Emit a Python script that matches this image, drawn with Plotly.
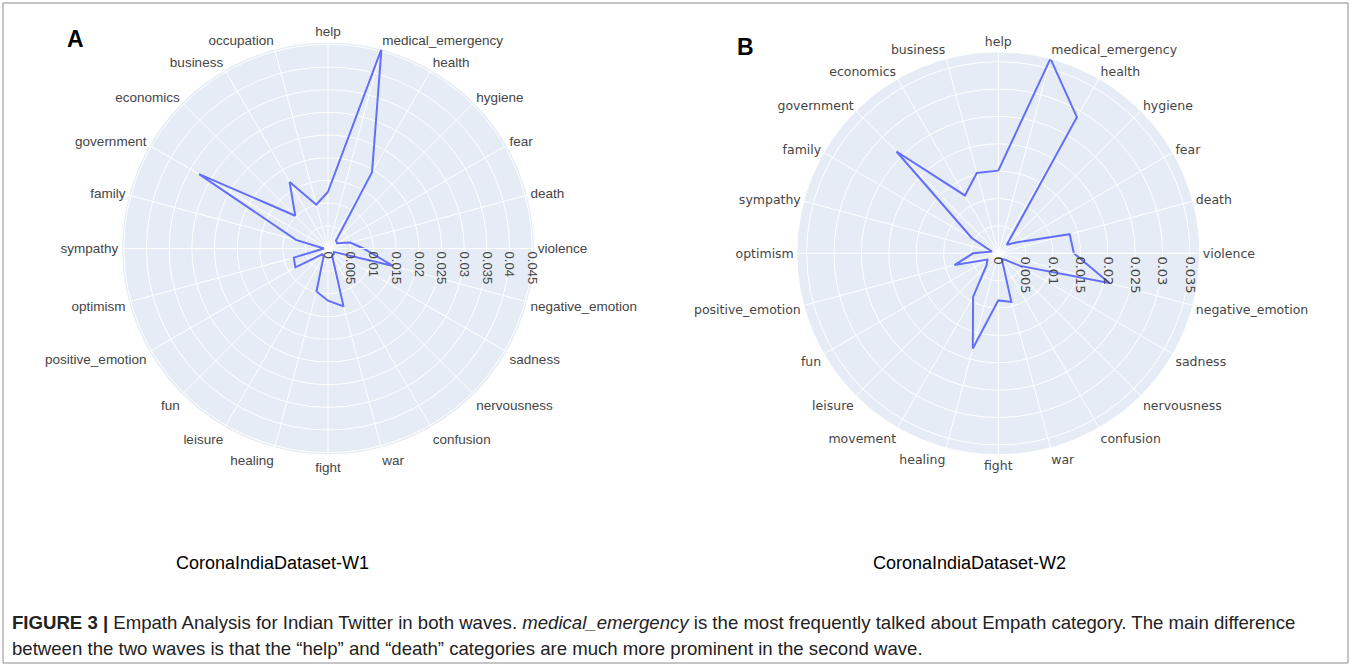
import plotly.graph_objects as go

# ---------------- data ----------------
cats_w1 = ["help", "medical_emergency", "health", "hygiene", "fear", "death",
           "violence", "negative_emotion", "sadness", "nervousness", "confusion",
           "war", "fight", "healing", "leisure", "fun", "positive_emotion",
           "optimism", "sympathy", "family", "government", "economics",
           "business", "occupation"]
vals_w1 = [0.0125, 0.0455, 0.0194, 0.0025, 0.0023, 0.0051,
           0.0078, 0.0149, 0.0015, 0.0018, 0.0018,
           0.0132, 0.0115, 0.0098, 0.0019, 0.0018, 0.0083,
           0.0078, 0.0009, 0.0073, 0.0328, 0.0102,
           0.0169, 0.0100]

cats_w2 = ["help", "medical_emergency", "health", "hygiene", "fear", "death",
           "violence", "negative_emotion", "sadness", "nervousness", "confusion",
           "war", "fight", "healing", "movement", "leisure", "fun",
           "positive_emotion", "optimism", "sympathy", "family", "government",
           "economics", "business"]
vals_w2 = [0.0151, 0.0368, 0.0287, 0.0022, 0.0040, 0.0135,
           0.0138, 0.0210, 0.0046, 0.0016, 0.0013,
           0.0092, 0.0086, 0.0180, 0.0092, 0.0030, 0.0023,
           0.0083, 0.0046, 0.0012, 0.0056, 0.0263,
           0.0122, 0.0152]

panel_titles = ["CoronaIndiaDataset-W1", "CoronaIndiaDataset-W2"]
panel_letters = ["A", "B"]
radial_ticks_w1 = [round(0.005 * i, 3) for i in range(10)]
radial_ticks_w2 = [round(0.005 * i, 3) for i in range(8)]

W, H = 1351, 666
LINE = "#636efa"
LABEL = "#454545"

fig = go.Figure()
fig.add_trace(go.Scatterpolar(r=vals_w1 + vals_w1[:1], theta=cats_w1 + cats_w1[:1],
                              mode="lines", line=dict(color=LINE, width=2),
                              subplot="polar", showlegend=False))
fig.add_trace(go.Scatterpolar(r=vals_w2 + vals_w2[:1], theta=cats_w2 + cats_w2[:1],
                              mode="lines", line=dict(color=LINE, width=2),
                              subplot="polar2", showlegend=False))


def px_dom(cx, cy, rad):
    return dict(x=[(cx - rad) / W, (cx + rad) / W],
                y=[(H - cy - rad) / H, (H - cy + rad) / H])


def polar_cfg(dom, cats, vmax, ticks, family, afs, rfs):
    return dict(
        domain=dom,
        bgcolor="#E5ECF6",
        angularaxis=dict(type="category", categoryorder="array", categoryarray=cats,
                         direction="clockwise", rotation=90,
                         gridcolor="white", linecolor="white", showline=True,
                         ticks="", tickfont=dict(family=family, size=afs, color=LABEL)),
        radialaxis=dict(range=[0, vmax], angle=0, tickangle=90,
                        tickvals=ticks, ticktext=[str(t) if t != 0 else "0" for t in ticks],
                        gridcolor="white", linecolor="white", showline=True, ticks="",
                        tickfont=dict(family=family, size=rfs, color=LABEL)),
    )


fig.update_layout(
    width=W, height=H,
    margin=dict(l=0, r=0, t=0, b=0),
    paper_bgcolor="white", plot_bgcolor="white",
    polar=polar_cfg(px_dom(328, 248.5, 206.5), cats_w1, max(vals_w1), radial_ticks_w1,
                    "Liberation Sans, Arial, sans-serif", 13.5, 13),
    polar2=polar_cfg(px_dom(998.3, 253.3, 201.5), cats_w2, max(vals_w2), radial_ticks_w2,
                     "DejaVu Sans, sans-serif", 12.5, 13),
)

# border frame
fig.add_shape(type="rect", xref="paper", yref="paper",
              x0=3 / W, x1=1348 / W, y0=1 - 663 / H, y1=1 - 3 / H,
              line=dict(color="#8c8c8c", width=1), fillcolor="rgba(0,0,0,0)")

SANS = "Liberation Sans, Arial, sans-serif"
# panel letters
for letter, xp, yp in zip(panel_letters, [75.5, 745.5], [38.5, 47.5]):
    fig.add_annotation(x=xp / W, y=1 - yp / H, xref="paper", yref="paper",
                       xanchor="center", yanchor="middle",
                       text="<b>%s</b>" % letter, showarrow=False,
                       font=dict(family=SANS, size=23, color="black"))
# panel titles
for t, xp in zip(panel_titles, [272, 969]):
    fig.add_annotation(x=xp / W, y=1 - 563 / H, xref="paper", yref="paper",
                       xanchor="center", yanchor="middle",
                       text=t, showarrow=False,
                       font=dict(family=SANS, size=18, color="black"))

caption1 = ("<b>FIGURE 3 |</b> Empath Analysis for Indian Twitter in both waves. "
            "<i>medical_emergency</i> is the most frequently talked about Empath category. "
            "The main difference")
caption2 = ("between the two waves is that the \u201chelp\u201d and \u201cdeath\u201d "
            "categories are much more prominent in the second wave.")
for c, yp in zip([caption1, caption2], [622, 648]):
    fig.add_annotation(x=10 / W, y=1 - yp / H, xref="paper", yref="paper",
                       xanchor="left", yanchor="middle", text=c, showarrow=False,
                       font=dict(family=SANS, size=18.6, color="#222"))

fig.write_html("out.html")
